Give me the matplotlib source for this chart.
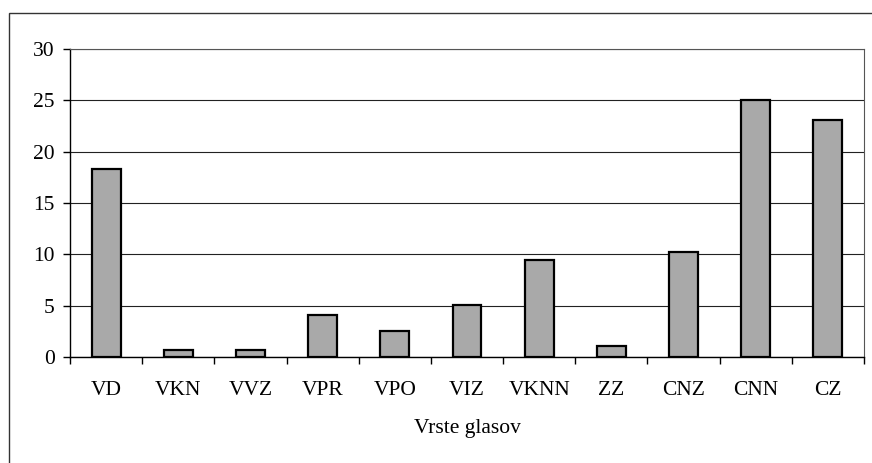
import matplotlib
matplotlib.use("Agg")
import matplotlib.pyplot as plt
from matplotlib.patches import Rectangle

categories = ["VD", "VKN", "VVZ", "VPR", "VPO", "VIZ", "VKNN", "ZZ", "CNZ", "CNN", "CZ"]
values = [18.3, 0.7, 0.7, 4.1, 2.5, 5.1, 9.4, 1.1, 10.2, 25.0, 23.1]
yticks = [0, 5, 10, 15, 20, 25, 30]

plt.rcParams['font.family'] = ['Liberation Serif', 'DejaVu Serif']

W, H = 872, 463
fig = plt.figure(figsize=(W / 100, H / 100), dpi=100)
fig.patch.set_facecolor('white')

# outer frame
fig.patches.append(Rectangle((9 / W, -0.05), (W + 20) / W, (H - 13) / H + 0.05,
                             transform=fig.transFigure, fill=False,
                             edgecolor='#333333', linewidth=1.0))

left, right, top, bottom = 70, 864, 49, 357
ax = fig.add_axes([left / W, 1 - bottom / H, (right - left) / W, (bottom - top) / H])

x = list(range(len(categories)))
ax.bar(x, values, width=0.4, color='#a9a9a9', edgecolor='black', linewidth=1.6, zorder=3)

fs = 15.5
ax.set_xlim(-0.5, len(categories) - 0.5)
ax.set_ylim(0, 30)
ax.set_yticks(yticks)
ax.set_yticklabels([str(t) for t in yticks], fontsize=fs)
ax.yaxis.grid(True, color='#222222', linewidth=0.8, zorder=0)

ax.set_xticks(x)
ax.set_xticklabels(categories, fontsize=fs)
ax.tick_params(axis='x', length=0, pad=17)
ax.set_xticks([i - 0.5 for i in range(len(categories) + 1)], minor=True)
ax.tick_params(axis='x', which='minor', length=5, width=1, direction='out', color='black')
ax.tick_params(axis='y', length=5, width=1, direction='out', pad=6)

for s in ['top', 'right']:
    ax.spines[s].set_color('#555555')
    ax.spines[s].set_linewidth(0.8)
for s in ['left', 'bottom']:
    ax.spines[s].set_color('black')
    ax.spines[s].set_linewidth(1.0)

ax.set_xlabel("Vrste glasov", fontsize=fs, labelpad=14)

fig.savefig("out.png", dpi=100)
